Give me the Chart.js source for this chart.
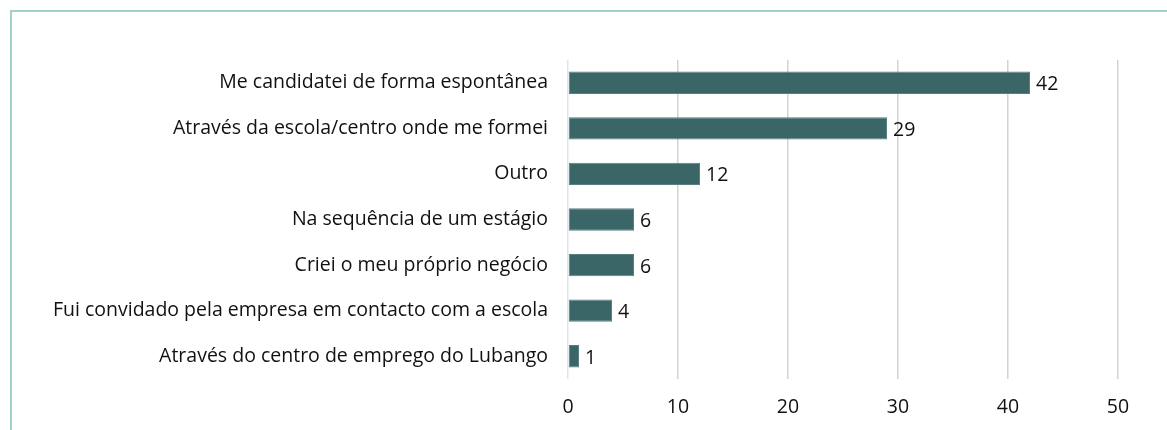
<!DOCTYPE html>
<html>
<head>
<meta charset="utf-8">
<script src="https://cdn.jsdelivr.net/npm/chart.js@4/dist/chart.umd.min.js"></script>
<style>
  html, body { margin: 0; padding: 0; background: #fff; overflow: hidden; }
  #frame { position: absolute; left: 10px; top: 10px; width: 1200px; height: 460px;
           border: 2px solid #9fd0c9; box-sizing: border-box; }
  #wrap { position: absolute; left: 0; top: 0; width: 1167px; height: 430px; }
</style>
</head>
<body>
<div id="frame"></div>
<div id="wrap"><canvas id="chart"></canvas></div>
<script>
// categories and values (top to bottom)
var categories = [
  'Me candidatei de forma espontânea',
  'Através da escola/centro onde me formei',
  'Outro',
  'Na sequência de um estágio',
  'Criei o meu próprio negócio',
  'Fui convidado pela empresa em contacto com a escola',
  'Através do centro de emprego do Lubango'
];
var values = [42, 29, 12, 6, 6, 4, 1];
var xTicks = [0, 10, 20, 30, 40, 50];

var fontFamily = '"Open Sans", sans-serif';
var fontSize = 19.5;

// value labels at the end of each bar
var barLabels = {
  id: 'barLabels',
  afterDatasetsDraw: function(chart) {
    var ctx = chart.ctx;
    var meta = chart.getDatasetMeta(0);
    ctx.save();
    ctx.font = fontSize + 'px ' + fontFamily;
    ctx.fillStyle = '#111';
    ctx.textBaseline = 'middle';
    ctx.textAlign = 'left';
    meta.data.forEach(function(bar, i) {
      ctx.fillText(String(values[i]), bar.x + 6, bar.y + 2);
    });
    ctx.restore();
  }
};

var ctx = document.getElementById('chart').getContext('2d');
var chart = new Chart(ctx, {
  type: 'bar',
  data: {
    labels: categories,
    datasets: [{
      data: values,
      backgroundColor: '#3b6668',
      borderColor: '#5a7f80',
      borderWidth: 1,
      borderSkipped: false,
      categoryPercentage: 1,
      barPercentage: 0.49
    }]
  },
  options: {
    indexAxis: 'y',
    responsive: true,
    maintainAspectRatio: false,
    animation: false,
    layout: { padding: { top: 60, right: 49, bottom: 0, left: 0 } },
    plugins: { legend: { display: false }, tooltip: { enabled: false } },
    scales: {
      x: {
        min: 0,
        max: 50,
        afterBuildTicks: function(scale) {
          scale.ticks = xTicks.map(function(v) { return { value: v }; });
        },
        afterFit: function(scale) { scale.height = 51; },
        grid: {
          drawTicks: false,
          lineWidth: 1.5,
          color: function(c) { return c.index === 0 ? '#dfe5ee' : '#d3d3d3'; }
        },
        border: { display: false },
        ticks: {
          padding: 17,
          color: '#111',
          font: { family: fontFamily, size: fontSize }
        }
      },
      y: {
        afterFit: function(scale) { scale.width = 568; },
        grid: { display: false, drawTicks: false },
        border: { display: false },
        ticks: {
          padding: 20,
          color: '#111',
          font: { family: fontFamily, size: fontSize }
        }
      }
    }
  },
  plugins: [barLabels]
});
</script>
</body>
</html>
